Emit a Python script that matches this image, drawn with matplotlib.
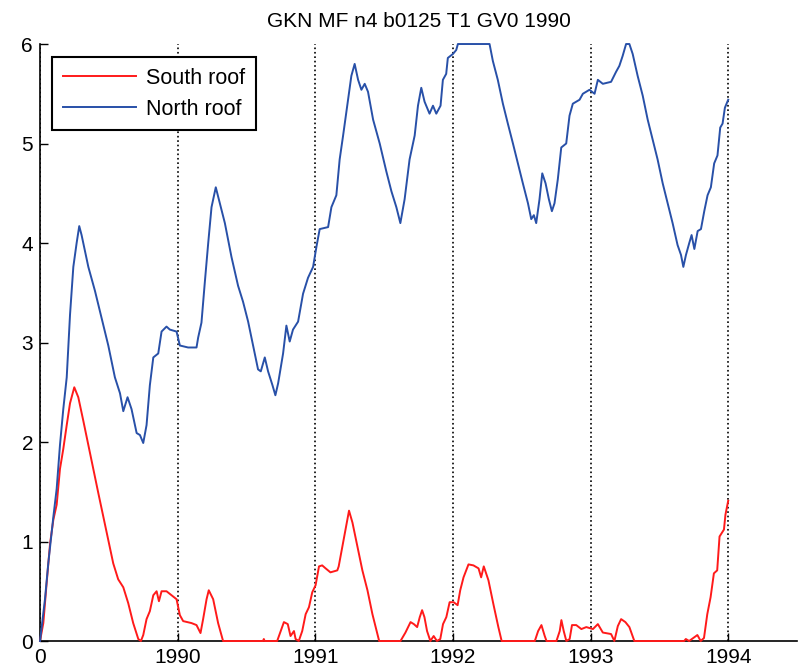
"""Roof series plot, GKN MF n4 b0125 T1 GV0 1990"""

from matplotlib import pyplot as plt

plt.rcParams['font.family'] = ['Liberation Sans', 'DejaVu Sans']

# elapsed time in years since start of 1989
north_t = [0, 0.036, 0.060, 0.097, 0.121, 0.145, 0.169, 0.194, 0.206, 0.218,
           0.242, 0.266, 0.285, 0.302, 0.351, 0.399, 0.448, 0.496, 0.544, 0.581,
           0.605, 0.636, 0.665, 0.702, 0.726, 0.750, 0.774, 0.798, 0.823, 0.859,
           0.883, 0.919, 0.943, 0.992, 1.016, 1.076, 1.137, 1.149, 1.173, 1.197,
           1.222, 1.246, 1.277, 1.306, 1.343, 1.391, 1.439, 1.475, 1.512, 1.548,
           1.584, 1.604, 1.633, 1.657, 1.689, 1.710, 1.730, 1.766, 1.790, 1.814,
           1.838, 1.875, 1.911, 1.947, 1.984, 2.008, 2.032, 2.093, 2.117, 2.153,
           2.177, 2.202, 2.238, 2.262, 2.286, 2.311, 2.335, 2.359, 2.383, 2.420,
           2.468, 2.516, 2.553, 2.589, 2.618, 2.649, 2.685, 2.722, 2.746, 2.770,
           2.794, 2.830, 2.855, 2.879, 2.910, 2.927, 2.951, 2.963, 3.000, 3.024,
           3.036, 3.266, 3.290, 3.326, 3.363, 3.399, 3.436, 3.472, 3.508, 3.545,
           3.569, 3.588, 3.605, 3.629, 3.649, 3.673, 3.697, 3.719, 3.738, 3.762,
           3.787, 3.823, 3.847, 3.871, 3.920, 3.944, 3.992, 4.029, 4.053, 4.089,
           4.149, 4.185, 4.209, 4.233, 4.258, 4.282, 4.306, 4.342, 4.379, 4.415,
           4.451, 4.487, 4.524, 4.560, 4.596, 4.632, 4.657, 4.674, 4.693, 4.717,
           4.734, 4.754, 4.778, 4.802, 4.826, 4.850, 4.874, 4.898, 4.922, 4.942,
           4.959, 4.976, 5.000]
north_roof = [0, 0.42, 0.78, 1.25, 1.53, 1.97, 2.33, 2.65, 2.97, 3.28,
              3.76, 4.00, 4.17, 4.08, 3.76, 3.52, 3.24, 2.97, 2.65, 2.49,
              2.31, 2.45, 2.33, 2.09, 2.07, 1.99, 2.17, 2.57, 2.85, 2.89,
              3.11, 3.16, 3.13, 3.11, 2.97, 2.95, 2.95, 3.05, 3.20, 3.60,
              4.00, 4.36, 4.56, 4.40, 4.20, 3.86, 3.57, 3.41, 3.21, 2.97,
              2.73, 2.71, 2.85, 2.71, 2.57, 2.47, 2.59, 2.89, 3.17, 3.01,
              3.13, 3.21, 3.49, 3.65, 3.76, 3.96, 4.14, 4.16, 4.36, 4.48,
              4.84, 5.08, 5.44, 5.68, 5.80, 5.64, 5.54, 5.60, 5.52, 5.24,
              5.00, 4.72, 4.52, 4.36, 4.20, 4.44, 4.84, 5.08, 5.38, 5.56,
              5.42, 5.30, 5.38, 5.30, 5.38, 5.64, 5.70, 5.86, 5.90, 5.94,
              6.00, 6.00, 5.83, 5.64, 5.40, 5.20, 5.00, 4.80, 4.60, 4.40,
              4.24, 4.28, 4.20, 4.44, 4.70, 4.60, 4.44, 4.32, 4.40, 4.64,
              4.96, 5.00, 5.28, 5.40, 5.44, 5.50, 5.54, 5.50, 5.64, 5.60,
              5.62, 5.72, 5.78, 5.88, 6.00, 6.00, 5.90, 5.68, 5.48, 5.24,
              5.04, 4.84, 4.60, 4.40, 4.20, 3.98, 3.88, 3.76, 3.88, 4.00,
              4.08, 3.94, 4.12, 4.14, 4.32, 4.48, 4.56, 4.80, 4.88, 5.16,
              5.20, 5.36, 5.44]

south_t = [0, 0.024, 0.048, 0.073, 0.097, 0.121, 0.145, 0.169, 0.194, 0.218,
           0.249, 0.278, 0.315, 0.351, 0.387, 0.423, 0.460, 0.496, 0.532, 0.568,
           0.605, 0.641, 0.677, 0.714, 0.733, 0.750, 0.774, 0.798, 0.823, 0.847,
           0.864, 0.883, 0.919, 0.956, 0.992, 1.016, 1.040, 1.101, 1.137, 1.166,
           1.185, 1.210, 1.226, 1.258, 1.294, 1.330, 1.620, 1.626, 1.632, 1.723,
           1.772, 1.800, 1.820, 1.845, 1.857, 1.880, 1.905, 1.930, 1.954, 1.978,
           2.002, 2.027, 2.050, 2.075, 2.110, 2.160, 2.170, 2.197, 2.220, 2.245,
           2.270, 2.306, 2.342, 2.379, 2.415, 2.450, 2.464, 2.619, 2.655, 2.692,
           2.716, 2.740, 2.759, 2.776, 2.793, 2.812, 2.836, 2.860, 2.884, 2.908,
           2.928, 2.952, 2.976, 3.005, 3.034, 3.053, 3.077, 3.113, 3.149, 3.186,
           3.205, 3.224, 3.258, 3.294, 3.330, 3.354, 3.595, 3.619, 3.643, 3.667,
           3.680, 3.752, 3.776, 3.788, 3.805, 3.824, 3.848, 3.865, 3.896, 3.933,
           3.969, 4.017, 4.053, 4.089, 4.149, 4.173, 4.198, 4.222, 4.253, 4.282,
           4.318, 4.680, 4.692, 4.716, 4.776, 4.800, 4.824, 4.848, 4.872, 4.896,
           4.920, 4.937, 4.969, 4.980, 5.000]
south_roof = [0, 0.18, 0.58, 0.98, 1.22, 1.37, 1.73, 1.93, 2.17, 2.39,
              2.55, 2.45, 2.21, 1.97, 1.73, 1.49, 1.25, 1.02, 0.78, 0.62,
              0.54, 0.38, 0.18, 0.02, 0, 0.06, 0.22, 0.30, 0.46, 0.50,
              0.40, 0.50, 0.50, 0.46, 0.42, 0.26, 0.20, 0.18, 0.16, 0.08,
              0.22, 0.42, 0.51, 0.42, 0.18, 0, 0, 0.02, 0, 0,
              0.19, 0.17, 0.05, 0.10, 0.02, 0, 0.10, 0.27, 0.34, 0.49,
              0.56, 0.75, 0.76, 0.73, 0.69, 0.71, 0.75, 0.95, 1.12, 1.31,
              1.19, 0.95, 0.71, 0.51, 0.27, 0.08, 0, 0, 0.085, 0.19,
              0.17, 0.14, 0.24, 0.31, 0.24, 0.10, 0, 0.05, 0, 0.02,
              0.17, 0.24, 0.39, 0.39, 0.36, 0.51, 0.64, 0.77, 0.76, 0.73,
              0.64, 0.75, 0.61, 0.37, 0.14, 0, 0, 0.10, 0.16, 0.05,
              0, 0, 0.10, 0.21, 0.10, 0, 0.02, 0.16, 0.16, 0.12,
              0.14, 0.12, 0.17, 0.085, 0.07, 0, 0.15, 0.22, 0.19, 0.14,
              0, 0, 0.02, 0, 0.06, 0, 0.03, 0.27, 0.44, 0.68,
              0.71, 1.05, 1.12, 1.27, 1.41]

year_ticks = [0, 1, 2, 3, 4, 5]
year_labels = ['0', '1990', '1991', '1992', '1993', '1994']

fig = plt.figure(figsize=(8.02, 6.71), dpi=100)
ax = fig.add_axes([0.0499, 0.0447, 0.9439, 0.8897])

# year boundaries
for t in year_ticks:
    ax.axvline(t, color='black', linestyle=':', linewidth=1.2, zorder=1)

ax.plot(south_t, south_roof, color='#ff1a1a', linewidth=1.4,
        label='South roof', clip_on=False, zorder=3)
ax.plot(north_t, north_roof, color='#2850a8', linewidth=1.4,
        label='North roof', clip_on=False, zorder=3)

ax.set_xlim(0, 5.5)
ax.set_ylim(0, 6)
ax.set_xticks(year_ticks)
ax.set_xticklabels(year_labels)
ax.set_yticks(range(7))
ax.tick_params(direction='in', length=6, width=1, labelsize=15, pad=5)
ax.spines['top'].set_visible(False)
ax.spines['right'].set_visible(False)
for side in ('left', 'bottom'):
    ax.spines[side].set_linewidth(1.2)

ax.set_title('GKN MF n4 b0125 T1 GV0 1990', fontsize=15, pad=12)

leg = ax.legend(loc='upper left', bbox_to_anchor=(0.0159, 0.978),
                borderaxespad=0, fontsize=15.5, fancybox=False, framealpha=1,
                edgecolor='black', handlelength=3.4, handletextpad=0.45,
                labelspacing=0.45, borderpad=0.5)
leg.get_frame().set_linewidth(1.5)

fig.savefig('out.png', dpi=100)
